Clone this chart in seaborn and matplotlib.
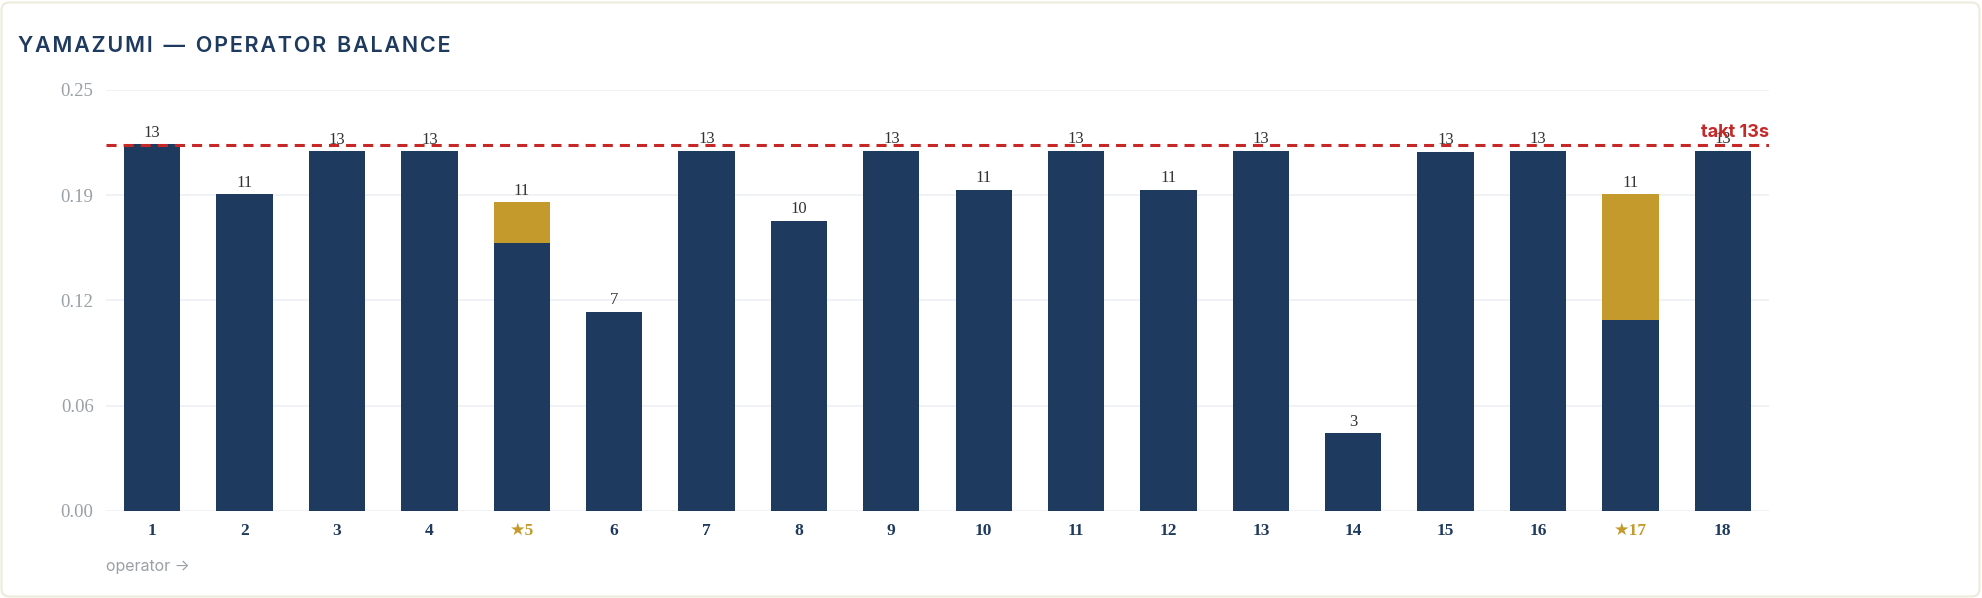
"""
Yamazumi chart - operator balance against takt time
"""

import matplotlib
matplotlib.use("Agg")
import matplotlib.pyplot as plt
from matplotlib.patches import FancyBboxPatch
from matplotlib.transforms import IdentityTransform
import seaborn as sns
import pandas as pd


# Data (seconds per operator)
operators = [str(i) for i in range(1, 19)]
own_s = [13.06, 11.29, 12.82, 12.82, 9.53, 7.10, 12.83, 10.34, 12.83,
         11.45, 12.83, 11.45, 12.83, 2.77, 12.80, 12.83, 6.79, 12.83]
help_s = [0, 0, 0, 0, 1.46, 0, 0, 0, 0,
          0, 0, 0, 0, 0, 0, 0, 4.50, 0]
starred = ["5", "17"]
takt_s = 13.05
y_ticks = [0, 0.0625, 0.125, 0.1875, 0.25]

NAVY = "#1f3a5f"
GOLD = "#c49a2c"
RED = "#c62828"
GRAY = "#9aa0a6"

df = pd.DataFrame({"op": operators, "own": own_s, "help": help_s})
df["total"] = df["own"] + df["help"]
df["y_total"] = df["total"] / 60
df["y_own"] = df["own"] / 60

sns.set_style("white")
plt.rcParams["font.family"] = ["Liberation Serif", "DejaVu Sans"]

fig = plt.figure(figsize=(19.82, 5.98), dpi=100)
fig.patch.set_facecolor("white")

# card border
card = FancyBboxPatch((1.5, 1.5), 1978, 594, boxstyle="round,pad=0,rounding_size=8",
                      transform=IdentityTransform(), facecolor="white",
                      edgecolor="#ecebdc", linewidth=1.5, zorder=-5)
fig.patches.append(card)

ax = fig.add_axes([106 / 1982, 1 - 510.7 / 598, (1769 - 106) / 1982, (510.7 - 90) / 598])
ax.set_facecolor("none")

# totals: gold for starred operators (the help part shows above the own part)
palette = {op: (GOLD if op in starred else NAVY) for op in operators}
sns.barplot(data=df, x="op", y="y_total", hue="op", palette=palette, order=operators,
            width=0.61, legend=False, ax=ax, saturation=1, linewidth=0, zorder=3)
# own part of starred operators in navy
sub = df[df["op"].isin(starred)]
sns.barplot(data=sub, x="op", y="y_own", order=operators, color=NAVY,
            width=0.61, ax=ax, saturation=1, linewidth=0, zorder=4)

# value labels
for i, row in df.iterrows():
    ax.annotate(f"{row['total']:.0f}", (i, row["y_total"]), xytext=(0, 2.5),
                textcoords="offset points", ha="center", va="bottom",
                fontsize=12, color="#333333", zorder=6)

# takt line
takt_y = takt_s / 60
ax.axhline(takt_y, color=RED, lw=2.2, dashes=(3.3, 2.3), zorder=5)
ax.text(1.0, takt_y + 0.002, f"takt {takt_s:.0f}s", transform=ax.get_yaxis_transform(),
        ha="right", va="bottom", fontsize=13, fontweight="bold", color=RED,
        family=["Inter", "DejaVu Sans"], zorder=6)

ax.set_ylim(0, 0.25)
ax.set_xlim(-0.5, len(operators) - 0.5)
ax.set_yticks(y_ticks)
ax.set_yticklabels([f"{t:.2f}" for t in y_ticks])
ax.yaxis.grid(True, color="#eef0f3", lw=1.2, zorder=0)
ax.set_axisbelow(True)
for s in ax.spines.values():
    s.set_visible(False)
ax.tick_params(axis="y", length=0, pad=9, labelsize=13.5, labelcolor=GRAY)
ax.tick_params(axis="x", length=0, pad=9)
ax.set_xlabel("")
ax.set_ylabel("")

ax.set_xticks(range(len(operators)))
ax.set_xticklabels([("★" + op) if op in starred else op for op in operators],
                   fontsize=12.5, fontweight="bold")
for lab, op in zip(ax.get_xticklabels(), operators):
    lab.set_color(GOLD if op in starred else NAVY)

# title (letter-spaced) and axis note
title = "YAMAZUMI — OPERATOR BALANCE"
spaced = "  ".join("\u200a".join(word) for word in title.split(" "))
fig.text(18 / 1982, 1 - 46 / 598, spaced,
         fontsize=15.5, fontweight="semibold", color=NAVY, va="center", ha="left",
         family=["Inter", "DejaVu Sans"])
fig.text(106 / 1982, 1 - 566 / 598, "operator →", fontsize=11.5, color=GRAY,
         va="center", ha="left", family=["Inter", "DejaVu Sans"])

fig.savefig("out.png", dpi=100, facecolor="white")
